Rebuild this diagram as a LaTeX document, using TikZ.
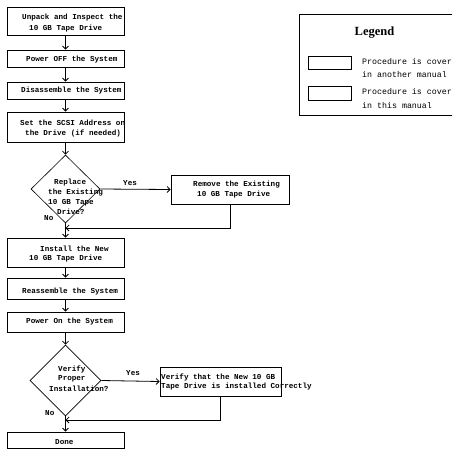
\documentclass[tikz,border=0pt]{standalone}
\usepackage{fontspec}
\usetikzlibrary{shapes.geometric,arrows.meta}
\newfontfamily\monofnt{Liberation Mono}
\newfontfamily\serfnt{Liberation Serif}
\tikzset{
  box/.style={draw, rectangle, inner sep=0pt, line width=0.8pt},
  dia/.style={draw, diamond, inner sep=0pt, line width=0.6pt},
  txt/.style={anchor=west, inner sep=0pt, font=\monofnt\bfseries\fontsize{7.6}{9}\selectfont},
  ltxt/.style={anchor=west, inner sep=0pt, font=\monofnt\fontsize{8.3}{10}\selectfont},
  conn/.style={line width=0.8pt},
  arr/.style={conn, -{Straight Barb[length=3pt,width=6pt]}}
}
\begin{document}
\begin{tikzpicture}[x=1pt,y=-1pt]
\useasboundingbox (0,0) rectangle (459,456);
\fill[white] (0,0) rectangle (459,456);
\begin{scope}
\clip (0,0) rectangle (452,456);
% boxes
\node[box, minimum width=117pt, minimum height=28pt] (b1) at (65.5,21) {};
\node[box, minimum width=117pt, minimum height=17pt] (b2) at (65.5,58.5) {};
\node[box, minimum width=117pt, minimum height=17pt] (b3) at (65.5,90.5) {};
\node[box, minimum width=117pt, minimum height=30pt] (b4) at (65.5,127) {};
\node[dia, minimum width=69pt, minimum height=68pt] (d1) at (65.5,189) {};
\node[box, minimum width=118pt, minimum height=29pt] (b5) at (230,189.5) {};
\node[box, minimum width=117pt, minimum height=29pt] (b6) at (65.5,252.5) {};
\node[box, minimum width=117pt, minimum height=21pt] (b7) at (65.5,288.5) {};
\node[box, minimum width=117pt, minimum height=20pt] (b8) at (65.5,322) {};
\node[dia, minimum width=71pt, minimum height=71pt] (d2) at (65.5,380.5) {};
\node[box, minimum width=121pt, minimum height=29pt] (b9) at (220.5,381.5) {};
\node[box, minimum width=117pt, minimum height=16pt] (b10) at (65.5,440) {};
% texts
\node[txt] (t1a) at (22,18) {Unpack and Inspect the};
\node[txt] (t1b) at (29,28.5) {10 GB Tape Drive};
\node[txt] (t2) at (26,60) {Power OFF the System};
\node[txt] (t3) at (21,91) {Disassemble the System};
\node[txt] (t4a) at (20,123) {Set the SCSI Address on};
\node[txt] (t4b) at (25,133) {the Drive (if needed)};
\node[txt] (t5a) at (54,183) {Replace};
\node[txt] (t5b) at (48,193) {the Existing};
\node[txt] (t5c) at (48,203) {10 GB Tape};
\node[txt] (t5d) at (57,212) {Drive?};
\node[txt] (t6a) at (193,185) {Remove the Existing};
\node[txt] (t6b) at (197,195) {10 GB Tape Drive};
\node[txt] (t7a) at (40,249) {Install the New};
\node[txt] (t7b) at (29,258.5) {10 GB Tape Drive};
\node[txt] (t8) at (22,292) {Reassemble the System};
\node[txt] (t9) at (26,322) {Power On the System};
\node[txt] (t10a) at (58,369) {Verify};
\node[txt] (t10b) at (58,379) {Proper};
\node[txt] (t10c) at (49,389) {Installation?};
\node[txt] (t11a) at (161,377) {Verify that the New 10 GB};
\node[txt] (t11b) at (161,387) {Tape Drive is installed Correctly};
\node[txt] (t12) at (55,442) {Done};
\node[txt] (y1) at (123,183) {Yes};
\node[txt] (n1) at (44,218) {No};
\node[txt] (y2) at (126,373) {Yes};
\node[txt] (n2) at (45,413) {No};
% connectors
\draw[arr] (b1) -- (b2);
\draw[arr] (b2) -- (b3);
\draw[arr] (b3) -- (b4);
\draw[arr] (b4) -- (d1);
\draw[arr] (d1.east) -- (b5.west);
\coordinate (j1) at (65.5,228);
\draw[arr] (b5.south) |- (j1);
\draw[arr] (d1.south) -- (b6.north);
\draw[arr] (b6) -- (b7);
\draw[arr] (b7) -- (b8);
\draw[arr] (b8) -- (d2);
\draw[arr] (d2.east) -- (b9.west);
\coordinate (j2) at (65.5,420);
\draw[arr] (b9.south) |- (j2);
\draw[arr] (d2.south) -- (b10.north);
% legend
\node[box, line width=0.8pt, minimum width=171pt, minimum height=101pt] (leg) at (384.5,64.5) {};
\node[inner sep=0pt, font=\serfnt\bfseries\fontsize{12.5}{14}\selectfont] (legt) at (374.5,33) {Legend};
\node[box, line width=0.6pt, minimum width=43pt, minimum height=13pt] (lb1) at (329.5,62.5) {};
\node[box, line width=0.6pt, minimum width=43pt, minimum height=14pt] (lb2) at (329.5,93) {};
\node[ltxt] (l1a) at (362,62) {Procedure is cover};
\node[ltxt] (l1b) at (362,75) {in another manual};
\node[ltxt] (l2a) at (362,92) {Procedure is cover};
\node[ltxt] (l2b) at (362,106) {in this manual};
\end{scope}
\end{tikzpicture}
\end{document}
